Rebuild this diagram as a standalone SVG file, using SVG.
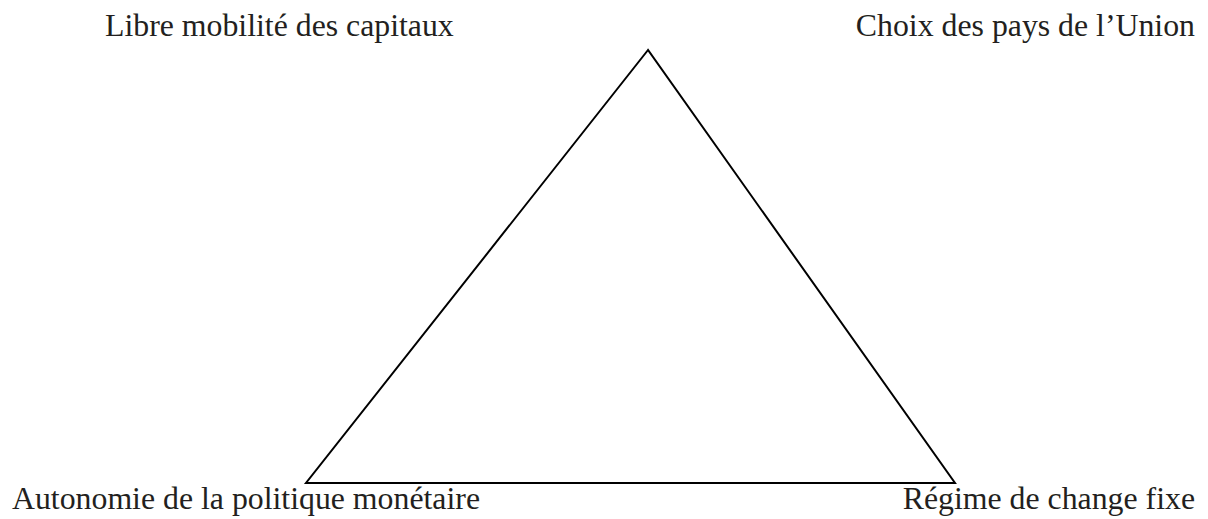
<svg xmlns="http://www.w3.org/2000/svg" width="1208" height="519" viewBox="0 0 1208 519">
<style>
.lbl{font-family:"Liberation Serif","Times New Roman",serif;font-size:31.8px;fill:#231f20}
.edge{stroke:#000;stroke-width:2;fill:none;stroke-linejoin:miter}
</style>
<rect width="1208" height="519" fill="#fff"/>
<g id="connectors">
<polygon class="edge" points="648,50 306,483 955,483"/>
</g>
<g id="node-capitaux"><text class="lbl" x="105" y="36">Libre mobilité des capitaux</text></g>
<g id="node-choix"><text class="lbl" x="1195" y="36" text-anchor="end">Choix des pays de l’Union</text></g>
<g id="node-autonomie"><text class="lbl" x="12" y="509">Autonomie de la politique monétaire</text></g>
<g id="node-regime"><text class="lbl" x="1195" y="509" text-anchor="end">Régime de change fixe</text></g>
</svg>
